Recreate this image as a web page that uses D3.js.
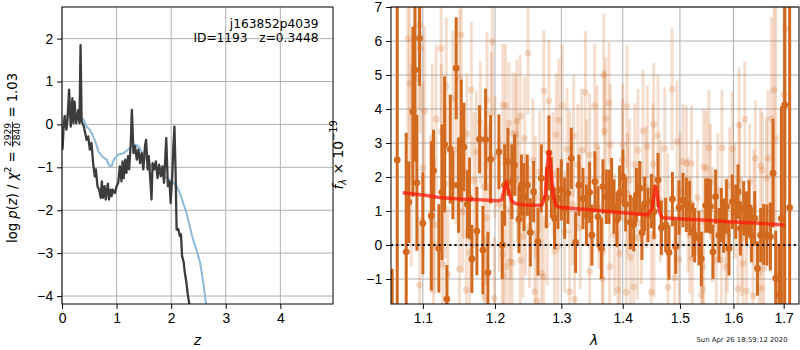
<!DOCTYPE html>
<html>
<head>
<meta charset="utf-8">
<script src="https://cdn.jsdelivr.net/npm/d3@7"></script>
<style>
    body { margin: 0; background: #fff; }
    svg { display: block; font-family: "DejaVu Sans", sans-serif; }
    .tick text { font-size: 13.9px; fill: #000; }
    .tick line { stroke: #000; }
    .grid line { stroke: #b0b0b0; stroke-width: 1; }
</style>
</head>
<body>
<svg id="chart" width="800" height="350"></svg>
<script>
// ---- left panel: log p(z) ----
const pzZ = [0.01, 0.03, 0.05, 0.08, 0.10, 0.13, 0.16, 0.19, 0.21, 0.23, 0.26, 0.30, 0.32, 0.34, 0.36,
    0.40, 0.45, 0.48, 0.51, 0.54, 0.57, 0.60, 0.62, 0.65, 0.68, 0.71, 0.73, 0.75, 0.78, 0.80,
    0.84, 0.86, 0.89, 0.91, 0.93, 0.97, 1.00, 1.03, 1.06, 1.09, 1.11, 1.13, 1.16, 1.18, 1.21,
    1.23, 1.26, 1.28, 1.31, 1.34, 1.37, 1.40, 1.43, 1.46, 1.49, 1.52, 1.54, 1.57, 1.59, 1.62,
    1.64, 1.66, 1.69, 1.72, 1.75, 1.78, 1.81, 1.84, 1.87, 1.91, 1.94, 1.97, 1.99, 2.02, 2.04,
    2.06, 2.08, 2.10, 2.13, 2.16, 2.18, 2.20, 2.23, 2.25, 2.28, 2.30, 2.34];
const pzLog = [-0.59, -0.05, 0.19, -0.12, 0.10, 0.81, -0.05, 0.61, 0.03, 0.53, 0.03, 0.34, 0.03, 1.85, 0.07,
    -0.05, -0.36, -0.28, -0.59, -0.43, -0.90, -1.21, -1.05, -1.44, -1.52, -1.71, -1.33, -1.71, -1.44, -1.75,
    -1.38, -1.75, -1.52, -1.67, -1.52, -1.60, -1.44, -1.36, -0.98, -1.33, -0.86, -1.25, -0.82, -1.13, -0.74,
    -1.05, -0.43, 0.34, -0.67, -0.51, -0.82, -0.59, -0.90, -0.67, -1.05, -0.51, -0.36, -1.05, -0.74, -1.33,
    -1.75, -0.90, -1.05, -0.86, -1.25, -0.94, -1.21, -0.98, -1.36, -0.32, -1.44, -1.33, -1.83, -1.21, -0.51,
    -0.05, -1.05, -2.45, -2.44, -2.60, -2.56, -3.07, -3.22, -3.45, -3.69, -3.92, -4.25];

// smooth template curve
const fitZ = [0.01, 0.05, 0.12, 0.18, 0.24, 0.33, 0.40, 0.45, 0.51, 0.57, 0.61, 0.67, 0.73, 0.77, 0.82,
    0.84, 0.88, 0.91, 0.95, 1.03, 1.12, 1.18, 1.28, 1.34, 1.40, 1.46, 1.55, 1.64, 1.73, 1.83,
    1.92, 2.01, 2.10, 2.16, 2.22, 2.28, 2.34, 2.40, 2.47, 2.53, 2.59, 2.65];
const fitLog = [-0.12, 0.19, 0.22, 0.30, 0.22, 0.20, 0.10, -0.05, -0.12, -0.28, -0.40, -0.63, -0.74, -0.78, -0.82,
    -0.90, -0.98, -0.97, -0.82, -0.70, -0.68, -0.62, -0.51, -0.47, -0.51, -0.63, -0.82, -0.98, -1.05, -1.17,
    -1.25, -1.32, -1.44, -1.60, -1.83, -2.06, -2.37, -2.68, -2.95, -3.22, -3.70, -4.30];

const zTicks = [0, 1, 2, 3, 4];
const pzTicks = [-4, -3, -2, -1, 0, 1, 2];

// ---- right panel: spectrum [lambda, flux, error] ----
const specDark = [
    [1.0600, -2.0, 1.3], [1.0665, 2.5, 6.0], [1.0781, -0.2, 3.5], [1.0814, 1.26, 1.2], [1.0868, 3.92, 2.5],
    [1.0894, 5.15, 2.7], [1.0921, 1.83, 2.0], [1.0956, 6.08, 1.4], [1.1000, 0.64, 1.5], [1.1112, 0.86, 2.2],
    [1.1142, 2.19, 1.2], [1.1214, -0.10, 1.3], [1.1255, 1.55, 2.0], [1.1292, 2.96, 2.0], [1.1323, -1.59, 1.0],
    [1.1369, 2.82, 1.6], [1.1405, 1.76, 1.0], [1.1451, 5.20, 1.5], [1.1484, 1.76, 1.4], [1.1521, 3.06, 1.8],
    [1.1558, 2.88, 1.3], [1.1606, 1.20, 1.0], [1.1638, 1.37, 1.2], [1.1670, -0.41, 1.0], [1.1741, 0.41, 1.3],
    [1.1779, 3.11, 1.0], [1.1826, -0.15, 1.3], [1.1865, 3.10, 1.5], [1.1898, -0.81, 1.2], [1.1936, 2.52, 1.3],
    [1.2057, 2.74, 1.1], [1.2106, 0.00, 1.0], [1.2140, 1.76, 1.2], [1.2188, 2.45, 1.0], [1.2247, 1.86, 1.1],
    [1.2287, 2.35, 0.9], [1.2352, 0.76, 1.0], [1.2388, 1.76, 0.9], [1.2427, 1.41, 1.0], [1.2477, 1.76, 0.9],
    [1.2523, 0.37, 1.0], [1.2573, 1.57, 0.9], [1.2639, 0.10, 1.0], [1.2690, 1.96, 1.0], [1.2767, 1.39, 0.9],
    [1.2807, 2.71, 1.1], [1.2844, 1.69, 0.9], [1.2895, 0.78, 0.9], [1.2947, 1.37, 0.9], [1.3000, 1.62, 0.9],
    [1.3052, 1.08, 0.9], [1.3104, 1.52, 0.9], [1.3157, 2.55, 0.9], [1.3226, 0.08, 0.9], [1.3279, 1.76, 0.9],
    [1.3344, 1.37, 0.9], [1.3399, 0.88, 0.9], [1.3451, 1.55, 0.9], [1.3489, 0.29, 0.9], [1.3538, 1.86, 0.9],
    [1.3587, 0.83, 0.9], [1.3643, -0.10, 0.9], [1.3669, 1.72, 0.8], [1.3725, 1.42, 0.8], [1.3769, 1.42, 0.8],
    [1.3813, 1.76, 0.8], [1.3852, 1.13, 0.8], [1.3902, 0.74, 0.8], [1.3947, 1.54, 0.8], [1.4003, 2.01, 0.8],
    [1.4049, 1.20, 0.8], [1.4129, 0.67, 0.8], [1.4186, 0.61, 0.8], [1.4232, 1.47, 0.8], [1.4288, 1.67, 0.8],
    [1.4328, 0.36, 0.8], [1.4375, 1.21, 0.8], [1.4433, 0.88, 0.8], [1.4492, 1.29, 0.8], [1.4538, 0.98, 0.8],
    [1.4608, 1.91, 0.8], [1.4668, 0.51, 0.8], [1.4744, 0.59, 0.8], [1.4803, -0.22, 0.8], [1.4864, 1.35, 0.8],
    [1.4923, -0.05, 0.8], [1.4983, 1.10, 0.8], [1.5055, 1.32, 0.8], [1.5117, 1.18, 0.8], [1.5177, 1.08, 0.8],
    [1.5238, 0.44, 0.8], [1.5269, 0.29, 0.8], [1.5348, 0.20, 0.8], [1.5392, -0.41, 0.8], [1.5473, 1.16, 0.8],
    [1.5516, 1.16, 0.8], [1.5561, 1.13, 0.8], [1.5610, -0.20, 0.8], [1.5660, 1.42, 0.8], [1.5723, 0.29, 0.8],
    [1.5768, 0.88, 0.8], [1.5812, 0.57, 0.8], [1.5864, 1.13, 0.8], [1.5914, -0.10, 0.8], [1.5979, 1.27, 0.8],
    [1.6043, 0.98, 0.8], [1.6089, 1.57, 0.8], [1.6135, 0.49, 0.8], [1.6200, 1.08, 0.8], [1.6253, 0.78, 0.8],
    [1.6304, 1.10, 0.8], [1.6351, 0.29, 0.8], [1.6416, 0.78, 0.8], [1.6470, -0.69, 0.8], [1.6535, 0.29, 0.8],
    [1.6595, 0.31, 0.9], [1.6661, 0.29, 0.9], [1.6730, 0.25, 1.0], [1.6783, 2.11, 1.6], [1.6837, -0.98, 1.4],
    [1.6904, -1.47, 1.5], [1.6953, 0.78, 3.3], [1.7021, 4.12, 6.5], [1.7123, 1.10, 8.0]
];

// lower-weight points, drawn faint
const specLight = [
    [1.0803, 6.08, 3.0], [1.0825, 4.75, 3.0], [1.0847, 2.35, 3.0], [1.0913, 4.90, 3.0], [1.0956, 6.47, 2.5],
    [1.0956, -1.18, 2.0], [1.0965, 5.78, 2.5], [1.1000, 2.27, 2.5], [1.1023, 3.94, 2.5], [1.1112, 0.78, 2.2],
    [1.1125, 3.14, 2.2], [1.1142, 0.00, 2.0], [1.1155, 0.59, 2.0], [1.1178, 3.70, 2.2], [1.1245, 5.78, 2.2],
    [1.1249, 3.33, 2.0], [1.1268, -0.57, 2.0], [1.1300, 1.80, 2.2], [1.1315, 4.68, 2.0], [1.1337, -0.86, 2.0],
    [1.1405, 4.31, 2.0], [1.1450, 2.80, 2.2], [1.1495, -0.71, 1.8], [1.1498, 4.92, 2.0], [1.1521, 6.18, 2.0],
    [1.1540, 0.98, 1.8], [1.1550, 2.20, 2.0], [1.1591, -1.32, 1.8], [1.1600, 3.26, 1.8], [1.1638, -0.22, 1.8],
    [1.1662, 4.56, 2.0], [1.1700, 1.90, 2.0], [1.1732, 2.74, 1.8], [1.1789, 3.61, 1.8], [1.1836, 1.72, 1.8],
    [1.1850, -1.55, 1.8], [1.1870, 0.80, 2.0], [1.1884, 4.26, 2.0], [1.1912, 1.69, 1.8], [1.1946, 3.87, 1.8],
    [1.1960, 5.98, 2.0], [1.1990, -1.57, 1.8], [1.2000, 2.60, 1.8], [1.2060, 1.20, 2.0], [1.2106, -0.28, 1.8],
    [1.2115, 4.12, 1.8], [1.2125, -0.90, 1.8], [1.2154, 4.10, 1.8], [1.2164, -0.64, 1.8], [1.2203, 3.58, 1.8],
    [1.2213, -0.49, 1.8], [1.2230, 1.00, 2.0], [1.2253, -0.52, 1.8], [1.2262, 3.28, 1.8], [1.2302, 3.24, 1.8],
    [1.2322, 3.65, 1.8], [1.2330, 1.90, 1.8], [1.2372, 3.79, 1.8], [1.2372, -0.45, 1.8], [1.2412, 0.25, 1.8],
    [1.2437, 3.14, 1.8], [1.2450, 0.90, 1.8], [1.2487, 5.64, 1.8], [1.2512, 0.54, 1.8], [1.2562, 2.50, 1.8],
    [1.2588, -1.37, 1.8], [1.2600, 1.40, 1.8], [1.2624, -1.65, 1.8], [1.2664, 2.16, 1.8], [1.2690, -0.83, 1.8],
    [1.2725, -0.93, 1.8], [1.2729, 4.53, 1.8], [1.2780, 0.60, 1.8], [1.2807, 4.24, 1.8], [1.2870, 2.10, 1.8],
    [1.2895, -0.18, 1.8], [1.2921, 3.24, 1.8], [1.2947, -0.05, 1.8], [1.2962, 3.67, 1.8], [1.3015, 4.10, 1.8],
    [1.3050, 0.40, 1.8], [1.3089, 2.82, 1.8], [1.3130, 2.16, 1.8], [1.3130, -1.37, 1.8], [1.3180, 1.20, 1.8],
    [1.3194, 3.21, 1.8], [1.3210, -1.59, 1.8], [1.3263, 2.35, 1.8], [1.3300, 0.50, 1.8], [1.3323, 2.79, 1.8],
    [1.3383, 4.49, 1.8], [1.3400, 1.90, 1.8], [1.3451, 2.65, 1.8], [1.3451, -0.78, 1.8], [1.3533, 4.10, 1.8],
    [1.3571, 2.89, 1.8], [1.3600, 1.10, 1.8], [1.3659, -0.98, 1.8], [1.3669, -0.20, 1.8], [1.3681, 5.00, 1.8],
    [1.3692, 3.35, 1.8], [1.3714, 3.71, 1.8], [1.3769, 4.17, 1.8], [1.3780, -0.64, 1.8], [1.3791, 2.94, 1.8],
    [1.3860, 0.30, 1.8], [1.3919, -1.32, 1.8], [1.3947, -0.25, 1.8], [1.3992, 2.50, 1.8], [1.4003, 2.94, 1.8],
    [1.4060, -1.39, 1.8], [1.4071, 4.07, 1.8], [1.4080, 1.50, 1.8], [1.4117, 1.91, 1.8], [1.4129, -0.36, 1.8],
    [1.4186, -1.23, 1.8], [1.4203, 2.37, 1.8], [1.4250, 0.20, 1.8], [1.4259, 2.79, 1.8], [1.4318, 0.65, 1.8],
    [1.4346, 3.35, 1.8], [1.4400, 1.70, 1.8], [1.4422, 2.89, 1.8], [1.4492, -1.39, 1.8], [1.4521, 2.37, 1.8],
    [1.4532, 3.55, 1.8], [1.4538, 0.25, 1.8], [1.4608, 3.21, 1.8], [1.4650, 1.30, 1.8], [1.4727, 2.84, 1.8],
    [1.4780, 0.90, 1.8], [1.4785, -1.25, 1.8], [1.4857, 4.58, 1.8], [1.4905, -0.96, 1.8], [1.4947, 3.04, 1.8],
    [1.4983, -0.42, 1.7], [1.5000, 1.60, 1.7], [1.5055, 2.45, 1.7], [1.5117, 2.40, 1.7], [1.5150, 0.90, 1.7],
    [1.5177, 0.29, 1.7], [1.5208, 2.40, 1.7], [1.5227, -0.39, 1.7], [1.5320, 1.40, 1.7], [1.5392, -1.47, 1.7],
    [1.5422, -0.64, 1.7], [1.5425, -1.30, 1.7], [1.5434, 2.30, 1.7], [1.5484, 2.25, 1.7], [1.5532, 2.86, 1.7],
    [1.5561, 1.86, 1.7], [1.5600, 0.60, 1.7], [1.5673, -0.44, 1.7], [1.5700, 1.60, 1.7], [1.5768, -0.44, 1.7],
    [1.5780, 2.86, 1.7], [1.5851, -0.64, 1.7], [1.5880, 0.30, 1.7], [1.5927, 1.76, 1.7], [1.5979, 2.82, 1.7],
    [1.6030, 1.30, 1.7], [1.6089, -1.29, 1.7], [1.6109, 3.53, 1.7], [1.6121, 1.91, 1.7], [1.6160, 0.20, 1.7],
    [1.6186, -0.54, 1.7], [1.6222, 3.70, 1.7], [1.6253, -1.35, 1.7], [1.6317, 1.86, 1.7], [1.6383, -1.50, 1.7],
    [1.6400, 1.10, 1.7], [1.6430, 2.55, 1.7], [1.6501, -0.83, 1.7], [1.6529, 2.33, 1.7], [1.6549, -1.27, 1.7],
    [1.6569, 2.20, 1.7], [1.6595, -0.70, 1.7], [1.6649, 1.96, 1.8], [1.6681, 2.55, 2.0], [1.6749, 3.71, 3.0],
    [1.6802, 4.55, 4.0], [1.6837, 3.14, 4.0], [1.7007, 4.43, 5.0], [1.7042, 6.35, 5.0]
];

// best-fit model spectrum
const modelLam = [1.0735, 1.1000, 1.1224, 1.1498, 1.1779, 1.2045, 1.2100, 1.2130, 1.2164, 1.2200,
    1.2240, 1.2300, 1.2400, 1.2600, 1.2700, 1.2750, 1.2780, 1.2807, 1.2835, 1.2870,
    1.2920, 1.3000, 1.3500, 1.4000, 1.4420, 1.4500, 1.4540, 1.4565, 1.4595, 1.4630,
    1.4680, 1.5000, 1.5500, 1.6000, 1.6500, 1.7021];
const modelFlux = [1.54, 1.47, 1.40, 1.35, 1.33, 1.30, 1.33, 1.60, 1.86, 1.60,
    1.30, 1.22, 1.18, 1.17, 1.18, 1.45, 2.30, 2.74, 2.30, 1.45,
    1.15, 1.10, 1.03, 0.95, 0.89, 1.05, 1.50, 1.72, 1.50, 1.00,
    0.80, 0.77, 0.73, 0.68, 0.64, 0.59];

const lamTicks = [1.1, 1.2, 1.3, 1.4, 1.5, 1.6, 1.7];
const fluxTicks = [-1, 0, 1, 2, 3, 4, 5, 6, 7];

const objName = "j163852p4039";
const objInfo = "ID=1193   z=0.3448";
const stamp = "Sun Apr 26 18:59:12 2020";

const orange = "#d2691e";
const svg = d3.select("#chart");

// Frame, grid and ticks for one axes box
function drawAxes(box, x, y, xTicks, yTicks, xFmt) {
    const g = svg.append("g");
    g.append("g").attr("class", "grid")
        .selectAll("line").data(xTicks).join("line")
        .attr("x1", d => x(d)).attr("x2", d => x(d))
        .attr("y1", box.top).attr("y2", box.bottom);
    g.append("g").attr("class", "grid")
        .selectAll("line").data(yTicks).join("line")
        .attr("x1", box.left).attr("x2", box.right)
        .attr("y1", d => y(d)).attr("y2", d => y(d));

    g.append("g")
        .attr("transform", `translate(0,${box.bottom})`)
        .call(d3.axisBottom(x).tickValues(xTicks).tickFormat(xFmt)
            .tickSizeInner(4.9).tickSizeOuter(0).tickPadding(4))
        .call(a => a.select(".domain").remove());
    g.append("g")
        .attr("transform", `translate(${box.left},0)`)
        .call(d3.axisLeft(y).tickValues(yTicks).tickFormat(d3.format("d"))
            .tickSizeInner(4.9).tickSizeOuter(0).tickPadding(4))
        .call(a => a.select(".domain").remove());
    return g;
}

function drawFrame(box) {
    svg.append("rect")
        .attr("x", box.left).attr("y", box.top)
        .attr("width", box.right - box.left).attr("height", box.bottom - box.top)
        .attr("fill", "none").attr("stroke", "#000").attr("stroke-width", 1);
}

function addClip(id, box) {
    svg.append("clipPath").attr("id", id)
        .append("rect")
        .attr("x", box.left).attr("y", box.top)
        .attr("width", box.right - box.left).attr("height", box.bottom - box.top);
}

// Rotated label built from pieces (mathtext-like)
function mathLabel(cx, cy, parts) {
    const outer = svg.append("g").attr("transform", `translate(${cx},${cy}) rotate(-90)`);
    const g = outer.append("g");
    let u = 0;
    parts.forEach(p => {
        if (p.frac) {
            const num = g.append("text").attr("font-size", p.size).text(p.frac[0]);
            const den = g.append("text").attr("font-size", p.size).text(p.frac[1]);
            const wn = num.node().getComputedTextLength();
            const wd = den.node().getComputedTextLength();
            const w = Math.max(wn, wd) + 2;
            num.attr("x", u + (w - wn) / 2).attr("y", p.numY);
            den.attr("x", u + (w - wd) / 2).attr("y", p.denY);
            g.append("line")
                .attr("x1", u).attr("x2", u + w)
                .attr("y1", p.barY).attr("y2", p.barY)
                .attr("stroke", "#000").attr("stroke-width", 0.8);
            u += w;
        } else {
            const t = g.append("text")
                .attr("x", u).attr("y", p.dy || 0)
                .attr("font-size", p.size)
                .attr("font-style", p.italic ? "italic" : null)
                .style("white-space", "pre")
                .text(p.t);
            u += t.node().getComputedTextLength();
        }
    });
    g.attr("transform", `translate(${-u / 2},0)`);
}

// ================= left panel =================
const L = {left: 62, right: 333, top: 7, bottom: 304};
const xz = d3.scaleLinear().domain([0, 4.965]).range([L.left, L.right]);
const yp = d3.scaleLinear().domain([-4.186, 2.737]).range([L.bottom, L.top]);

drawAxes(L, xz, yp, zTicks, pzTicks, d3.format("d"));
addClip("clipL", L);

const pzLine = d3.line().x(d => xz(d[0])).y(d => yp(d[1]));
const gl = svg.append("g").attr("clip-path", "url(#clipL)");
gl.append("path")
    .attr("d", pzLine(d3.zip(fitZ, fitLog)))
    .attr("fill", "none").attr("stroke", "#8dbadb").attr("stroke-width", 2);
gl.append("path")
    .attr("d", pzLine(d3.zip(pzZ, pzLog)))
    .attr("fill", "none").attr("stroke", "#3c3c3c").attr("stroke-width", 2.3)
    .attr("stroke-linejoin", "round");
drawFrame(L);

svg.append("text").attr("x", 318.5).attr("y", 28).attr("text-anchor", "end")
    .attr("font-size", 12.2).text(objName);
svg.append("text").attr("x", 318.5).attr("y", 42).attr("text-anchor", "end")
    .attr("font-size", 12.2).style("white-space", "pre").text(objInfo);

svg.append("text").attr("x", xz(2.48)).attr("y", 345).attr("text-anchor", "middle")
    .attr("font-size", 13.9).attr("font-style", "italic").text("z");

mathLabel(17, 158, [
    {t: "log ", size: 13.2},
    {t: "p", size: 13.2, italic: true},
    {t: "(", size: 13.2},
    {t: "z", size: 13.2, italic: true},
    {t: ") / ", size: 13.2},
    {t: "χ", size: 13.2, italic: true},
    {t: "2", size: 9.2, dy: -6},
    {t: " = ", size: 13.2},
    {frac: ["2929", "2840"], size: 9.2, numY: -6.5, denY: 3, barY: -4.5},
    {t: " = 1.03", size: 13.2}
]);

// ================= right panel =================
const R = {left: 391, right: 799, top: 7, bottom: 304};
const xl = d3.scaleLog().domain([1.0585, 1.7317]).range([R.left, R.right]);
const yf = d3.scaleLinear().domain([-1.735, 7]).range([R.bottom, R.top]);

drawAxes(R, xl, yf, lamTicks, fluxTicks, d3.format(".1f"));
addClip("clipR", R);

const gr = svg.append("g").attr("clip-path", "url(#clipR)");

function errorbars(g, pts, opacity) {
    g.append("g").selectAll("line").data(pts).join("line")
        .attr("x1", d => xl(d[0])).attr("x2", d => xl(d[0]))
        .attr("y1", d => yf(d[1] - d[2])).attr("y2", d => yf(d[1] + d[2]))
        .attr("stroke", orange).attr("stroke-opacity", opacity).attr("stroke-width", 3);
    g.append("g").selectAll("circle").data(pts).join("circle")
        .attr("cx", d => xl(d[0])).attr("cy", d => yf(d[1]))
        .attr("r", 3.4)
        .attr("fill", orange).attr("fill-opacity", opacity);
}

errorbars(gr, specLight, 0.22);
errorbars(gr, specDark, 1);

gr.append("path")
    .attr("d", d3.line().x(d => xl(d[0])).y(d => yf(d[1]))(d3.zip(modelLam, modelFlux)))
    .attr("fill", "none").attr("stroke", "#ff1a0a").attr("stroke-opacity", 0.75)
    .attr("stroke-width", 3.5).attr("stroke-linejoin", "round");

gr.append("line")
    .attr("x1", R.left).attr("x2", R.right)
    .attr("y1", yf(0)).attr("y2", yf(0))
    .attr("stroke", "#000").attr("stroke-width", 2).attr("stroke-dasharray", "2,3.3");
drawFrame(R);

svg.append("text").attr("x", 594).attr("y", 345).attr("text-anchor", "middle")
    .attr("font-size", 13.9).attr("font-style", "italic").text("λ");

mathLabel(343, 155, [
    {t: "f", size: 13.9, italic: true},
    {t: "λ", size: 9.7, italic: true, dy: 3},
    {t: " × 10", size: 13.9},
    {t: "−19", size: 9.7, dy: -6}
]);

svg.append("text").attr("x", 742).attr("y", 342).attr("text-anchor", "middle")
    .attr("font-size", 6.9).attr("fill", "#222").text(stamp);
</script>
</body>
</html>
